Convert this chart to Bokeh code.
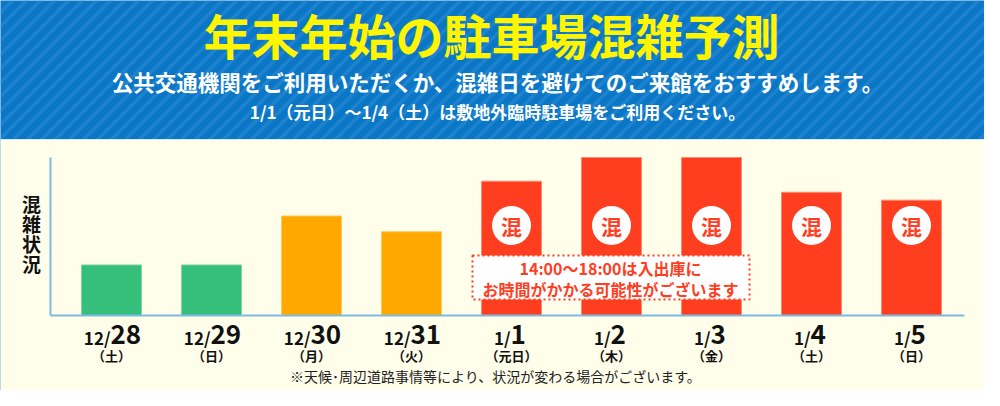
import numpy as np
from bokeh.plotting import figure
from bokeh.models import Range1d, ColumnDataSource
from bokeh.core.properties import value
from bokeh.embed import file_html
from bokeh.resources import INLINE

# ---------------- data ----------------
month_parts = ["12/", "12/", "12/", "12/", "1/", "1/", "1/", "1/", "1/"]
day_parts = ["28", "29", "30", "31", "1", "2", "3", "4", "5"]
weekdays = ["（土）", "（日）", "（月）", "（火）", "（元日）", "（木）", "（金）", "（土）", "（日）"]
congestion = [32, 32, 63, 53, 85, 100, 100, 78, 73]
levels = ["low", "low", "mid", "mid", "high", "high", "high", "high", "high"]

title_text = "年末年始の駐車場混雑予測"
subtitle_text = "公共交通機関をご利用いただくか、混雑日を避けてのご来館をおすすめします。"
subtitle2_text = "1/1（元日）～1/4（土）は敷地外臨時駐車場をご利用ください。"
ylabel_chars = ["混", "雑", "状", "況"]
badge_text = "混"
notice_lines = ["14:00～18:00は入出庫に", "お時間がかかる可能性がございます"]
footnote_text = "※天候･周辺道路事情等により、状況が変わる場合がございます。"

# ---------------- styles ----------------
FONT = value("Noto Sans CJK JP")
BLUE = "#0a77c6"
STRIPE = "#3a94da"
CREAM = "#fffeeb"
YELLOW = "#fff500"
RED = "#ff3e1f"
INK = "#111111"
level_fill = {"low": "#35bf7a", "mid": "#ffa800", "high": RED}
level_edge = {"low": "#7fd6a6", "mid": "#ffc862", "high": "#ff8a70"}
AXIS = "#7dbbe0"

# layout (reference pixel coordinates)
VX0, VX1, VY0, VY1 = 8, 992, 8, 398
BAR_X0, BAR_STEP, BAR_W = 119, 100, 60
BASE_Y, TOP_Y, VMAX = 323, 165, 100
ppu = (BASE_Y - TOP_Y) / VMAX

p = figure(width=VX1 - VX0, height=VY1 - VY0,
           x_range=Range1d(VX0, VX1), y_range=Range1d(VY1, VY0),
           output_backend="svg", toolbar_location=None,
           x_axis_location=None, y_axis_location=None,
           min_border=0, outline_line_color=None,
           background_fill_color=BLUE, border_fill_color=BLUE)
p.grid.visible = False
p.extra_x_ranges = {"bars": Range1d((VX0 - BAR_X0) / BAR_STEP, (VX1 - BAR_X0) / BAR_STEP)}
p.extra_y_ranges = {"val": Range1d((BASE_Y - VY1) / ppu, (BASE_Y - VY0) / ppu)}

# background stripes
x0s = np.arange(-420, 1020, 14)
p.segment(x0=x0s, y0=np.full(len(x0s), 406), x1=x0s + 406, y1=np.zeros(len(x0s)),
          line_color=STRIPE, line_width=3.5, line_alpha=0.42)

# cream panel
p.quad(left=6, right=994, top=147, bottom=399, fill_color=CREAM,
       line_color="#d8e8f2", line_width=1)

# bars
idx = np.arange(len(congestion))
src = ColumnDataSource(dict(
    x=idx, top=congestion,
    fill=[level_fill[l] for l in levels],
    edge=[level_edge[l] for l in levels],
    md=month_parts, dd=day_parts, wd=weekdays))
p.vbar(x="x", top="top", bottom=0, width=BAR_W / BAR_STEP, source=src,
       fill_color="fill", line_color="edge", line_width=1,
       x_range_name="bars", y_range_name="val")

# axis lines
p.segment(x0=[58, 58], y0=[165, 323], x1=[58, 972], y1=[323, 323],
          line_color=AXIS, line_width=2)

# badges on high-congestion bars
hi = [i for i, l in enumerate(levels) if l == "high"]
p.scatter(x=hi, y=[233] * len(hi), marker="circle", size=39,
          fill_color="white", line_color=None, x_range_name="bars")
p.text(x=hi, y=[233] * len(hi), text=[badge_text] * len(hi),
       text_font=FONT, text_font_style="bold", text_font_size="21px",
       text_color=RED, text_align="center", text_baseline="middle",
       x_range_name="bars")

# x tick labels
p.text(x="x", y=345, text="md", source=src, x_offset=-1,
       text_font=FONT, text_font_style="bold", text_font_size="17px",
       text_color=INK, text_align="right", text_baseline="middle",
       x_range_name="bars")
p.text(x="x", y=342, text="dd", source=src, x_offset=-1,
       text_font=FONT, text_font_style="bold", text_font_size="26px",
       text_color=INK, text_align="left", text_baseline="middle",
       x_range_name="bars")
p.text(x="x", y=363, text="wd", source=src,
       text_font=FONT, text_font_style="bold", text_font_size="13px",
       text_color=INK, text_align="center", text_baseline="middle",
       x_range_name="bars")

# notice box
p.quad(left=480, right=757, top=263, bottom=307, fill_color="white",
       line_color=RED, line_width=2, line_dash="2 3")
p.text(x=[618, 618], y=[275, 296], text=notice_lines, text_font=FONT,
       text_font_style="bold", text_font_size="16px", text_color=RED,
       text_align="center", text_baseline="middle")

# y label (vertical)
p.text(x=[39] * 4, y=[211, 231, 251, 271], text=ylabel_chars, text_font=FONT,
       text_font_style="bold", text_font_size="19px", text_color=INK,
       text_align="center", text_baseline="middle")

# headings
p.text(x=[499], y=[41], text=[title_text], text_font=FONT,
       text_font_style="bold", text_font_size="48px", text_color=YELLOW,
       text_align="center", text_baseline="middle")
p.text(x=[505], y=[89], text=[subtitle_text], text_font=FONT,
       text_font_style="bold", text_font_size="21.5px", text_color="white",
       text_align="center", text_baseline="middle")
p.text(x=[505], y=[119], text=[subtitle2_text], text_font=FONT,
       text_font_style="bold", text_font_size="17px", text_color="white",
       text_align="center", text_baseline="middle")

# footnote
p.text(x=[503], y=[383], text=[footnote_text], text_font=FONT,
       text_font_size="14px", text_color="#222222",
       text_align="center", text_baseline="middle")

open("out.html", "w").write(file_html(p, INLINE, title="年末年始の駐車場混雑予測"))
